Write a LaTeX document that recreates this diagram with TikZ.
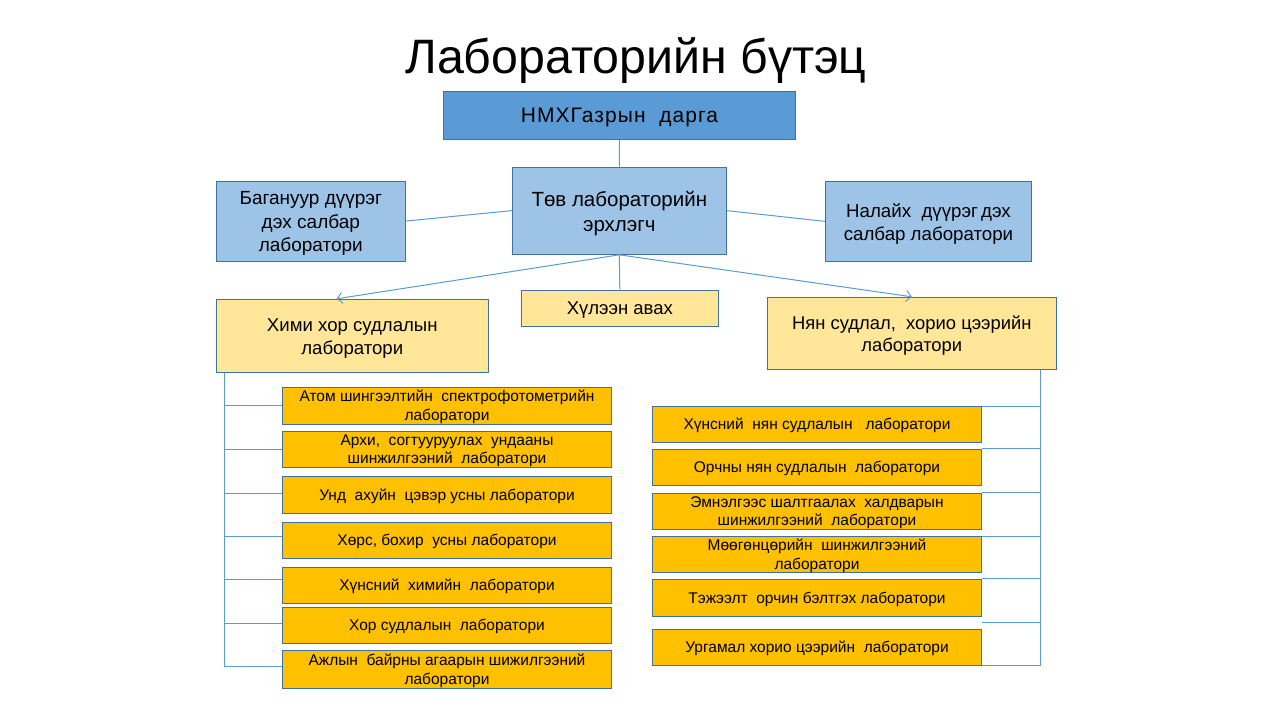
\documentclass[tikz,border=0pt]{standalone}
\usepackage{fontspec}
\setmainfont{Liberation Sans}
\usetikzlibrary{arrows.meta,calc}
\definecolor{dblue}{HTML}{5B9BD5}
\definecolor{lblue}{HTML}{9DC3E6}
\definecolor{lyel}{HTML}{FFE699}
\definecolor{gold}{HTML}{FFC000}
\definecolor{bord}{HTML}{41719C}
\definecolor{lineblue}{HTML}{5B9BD5}
\newcommand\myfs[2]{\fontsize{#1}{#2}\selectfont}
\tikzset{
  bx/.style={draw=bord, line width=1pt, inner sep=0pt},
  bt/.style={yshift=-2.5pt, align=center, inner sep=0pt},
  st/.style={yshift=-1.3pt, align=center, inner sep=0pt, font=\myfs{15.5}{18.3}},
  sm/.style={draw=bord, line width=1pt, fill=gold, inner sep=0pt, minimum width=329.4pt},
  conn/.style={draw=lineblue, line width=1pt},
  arr/.style={conn, -{Straight Barb[length=5pt,width=11pt]}},
}
\begin{document}
\begin{tikzpicture}[x=1pt,y=-1pt]
\useasboundingbox (0,0) rectangle (1280,720);
\node[anchor=base, font=\myfs{48.3}{55}] (title) at (636,73) {Лабораторийн бүтэц};
\node[bx, fill=dblue, minimum width=352.4pt, minimum height=48.3pt,
  label={[bt,font=\myfs{21}{24}\addfontfeature{LetterSpace=5}]center:{НМХГазрын\ \ дарга}}] (top) at (619.5,115.15) {};
\node[bx, fill=lblue, minimum width=214pt, minimum height=87.3pt,
  label={[bt,font=\myfs{20.5}{25}]center:{Төв лабораторийн\\эрхлэгч}}] (tov) at (619.3,210.65) {};
\node[bx, fill=lblue, minimum width=189.7pt, minimum height=80pt,
  label={[bt,font=\myfs{19}{23.3}]center:{Багануур дүүрэг\\дэх салбар\\лаборатори}}] (bag) at (310.85,221) {};
\node[bx, fill=lblue, minimum width=206.4pt, minimum height=79.3pt,
  label={[bt,font=\myfs{18.7}{23.3}]center:{Налайх\ \ дүүрэг\,дэх\\салбар лаборатори}}] (nal) at (928.5,221.35) {};
\node[bx, fill=lyel, minimum width=272pt, minimum height=73pt,
  label={[bt,font=\myfs{18.6}{22.6}]center:{Хими хор судлалын\\лаборатори}}] (him) at (352.3,335.8) {};
\node[bx, fill=lyel, minimum width=197pt, minimum height=36pt,
  label={[bt,font=\myfs{18.5}{22}]center:{Хүлээн авах}}] (hul) at (619.8,308) {};
\node[bx, fill=lyel, minimum width=288.3pt, minimum height=72pt,
  label={[bt,font=\myfs{18.4}{22.4}]center:{Нян судлал,\ \ хорио цээрийн\\лаборатори}}] (nyan) at (911.85,333.3) {};

\node[sm, minimum height=36.7pt, label={[st]center:{Атом шингээлтийн\ \ спектрофотометрийн\\лаборатори}}] (l1) at (447,405.65) {};
\node[sm, minimum height=36pt, label={[st]center:{Архи,\ \ согтууруулах\ \ ундааны\\шинжилгээний\ \ лаборатори}}] (l2) at (447,449.3) {};
\node[sm, minimum height=36.6pt, label={[st]center:{Унд\ \ ахуйн\ \ цэвэр усны лаборатори}}] (l3) at (447,495) {};
\node[sm, minimum height=36pt, label={[st]center:{Хөрс, бохир\ \ усны лаборатори}}] (l4) at (447,540.3) {};
\node[sm, minimum height=36pt, label={[st]center:{Хүнсний\ \ химийн\ \ лаборатори}}] (l5) at (447,585.3) {};
\node[sm, minimum height=36pt, label={[st]center:{Хор судлалын\ \ лаборатори}}] (l6) at (447,625.3) {};
\node[sm, minimum height=37.6pt, label={[st]center:{Ажлын\ \ байрны агаарын шижилгээний\\лаборатори}}] (l7) at (447,669.5) {};

\node[sm, minimum height=35.6pt, label={[st]center:{Хүнсний\ \ нян судлалын\ \ \ лаборатори}}] (r1) at (817,424.5) {};
\node[sm, minimum height=36pt, label={[st]center:{Орчны нян судлалын\ \ лаборатори}}] (r2) at (817,467.3) {};
\node[sm, minimum height=36pt, label={[st]center:{Эмнэлгээс шалтгаалах\ \ халдварын\\шинжилгээний\ \ лаборатори}}] (r3) at (817,511.3) {};
\node[sm, minimum height=35.6pt, label={[st]center:{Мөөгөнцөрийн\ \ шинжилгээний\\лаборатори}}] (r4) at (817,554.5) {};
\node[sm, minimum height=37pt, label={[st]center:{Тэжээлт\ \ орчин бэлтгэх лаборатори}}] (r5) at (817,597.8) {};
\node[sm, minimum height=36pt, label={[st]center:{Ургамал хорио цээрийн\ \ лаборатори}}] (r6) at (817,647.3) {};

% top connectors
\draw[conn] (top.south) -- (tov.north);
\draw[conn] (tov.west) -- (bag.east);
\draw[conn] (tov.east) -- (nal.west);
\draw[conn] (tov.south) -- (hul.north);
\draw[arr] (tov.south) -- ([xshift=-15.6pt]him.north);
\draw[arr] (tov.south) -- (nyan.north);

% left trunk
\coordinate (lt) at ([xshift=8.4pt]him.south west);
\draw[conn] (lt) |- ([yshift=3.5pt]l7.west);
\draw[conn] (lt |- l1.west) -- (l1.west);
\draw[conn] (lt |- l2.west) -- (l2.west);
\draw[conn] ([yshift=1.7pt]lt |- l3.west) -- ([yshift=1.7pt]l3.west);
\draw[conn] ([yshift=4.3pt]lt |- l4.west) -- ([yshift=4.3pt]l4.west);
\draw[conn] ([yshift=6pt]lt |- l5.west) -- ([yshift=6pt]l5.west);
\draw[conn] ([yshift=2pt]lt |- l6.west) -- ([yshift=2pt]l6.west);

% right trunk
\coordinate (rt) at ([xshift=-16pt]nyan.south east);
\coordinate (rfree) at ([yshift=6pt]r6.north east);
\draw[conn] (rt) |- (r6.south east);
\draw[conn] (rt |- r1.north east) -- (r1.north east);
\draw[conn] (rt |- r2.north east) -- (r2.north east);
\draw[conn] (rt |- r3.north east) -- (r3.north east);
\draw[conn] (rt |- r4.north east) -- (r4.north east);
\draw[conn] (rt |- r5.north east) -- (r5.north east);
\draw[conn] (rt |- rfree) -- (rfree);
\end{tikzpicture}
\end{document}
